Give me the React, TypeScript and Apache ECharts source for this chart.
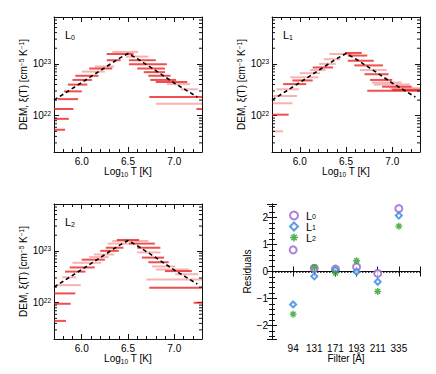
import React, { useEffect, useRef } from 'react';
import * as echarts from 'echarts';

const FONT = 'Liberation Sans';
const AX = '#111';

// Axis ranges
const T_MIN = 5.7;
const T_MAX = 7.3;
const DEM_MIN = 2e21;
const DEM_MAX = 8e23;
const RES_MIN = -2.5;
const RES_MAX = 2.5;

// Model DEM (dashed line): log10 T and log10 DEM
const modelLogT = [5.7, 6.0, 6.2, 6.4, 6.5, 6.6, 6.8, 7.0, 7.25];
const modelLogDem = [22.3, 22.64, 22.87, 23.1, 23.2, 23.1, 22.87, 22.63, 22.36];

// Regularised DEM solutions: [log T low, log T high, log10 DEM]
const l0Strong = [
  [6.27, 6.56, 23.19], [6.27, 6.42, 23.07], [6.51, 6.8, 23.07], [6.51, 6.92, 22.99],
  [6.08, 6.33, 22.91], [6.6, 6.9, 22.91], [6.67, 6.9, 22.84], [5.93, 6.18, 22.77],
  [6.72, 6.96, 22.77], [5.9, 6.11, 22.69], [6.74, 7.02, 22.69], [6.8, 7.14, 22.65],
  [5.85, 6.06, 22.6], [5.81, 6.0, 22.47], [6.73, 7.3, 22.36], [5.74, 5.96, 22.32],
  [5.7, 5.91, 22.13], [7.24, 7.3, 22.13], [5.7, 5.86, 21.94], [5.7, 5.82, 21.73],
];
const l0Light = [
  [6.33, 6.61, 23.23], [6.48, 6.72, 23.14], [6.14, 6.35, 22.95], [6.0, 6.25, 22.85],
  [6.92, 7.17, 22.61], [7.07, 7.26, 22.51], [6.8, 7.3, 22.23],
];
const l1Strong = [
  [6.49, 6.67, 23.21], [6.52, 6.73, 23.16], [6.52, 6.8, 23.06], [6.59, 6.9, 22.97],
  [6.14, 6.36, 22.93], [6.7, 6.96, 22.8], [6.76, 7.0, 22.69], [5.92, 6.14, 22.68],
  [5.82, 6.07, 22.61], [6.89, 7.21, 22.56], [6.73, 7.3, 22.48], [7.0, 7.3, 22.5],
  [5.7, 5.88, 22.02],
];
const l1Light = [
  [6.32, 6.56, 23.19], [6.26, 6.44, 23.09], [6.21, 6.39, 23.0], [6.11, 6.28, 22.88],
  [6.65, 6.94, 22.88], [6.0, 6.22, 22.82], [5.9, 6.2, 22.74], [6.78, 7.1, 22.64],
  [6.8, 7.19, 22.6], [6.98, 7.3, 22.53], [5.75, 5.99, 22.51], [5.71, 5.97, 22.38],
  [5.7, 5.92, 22.24], [5.7, 5.82, 21.7],
];
const l2Strong = [
  [6.38, 6.62, 23.21], [6.51, 6.79, 23.14], [6.26, 6.45, 23.06], [6.6, 6.85, 23.06],
  [6.2, 6.4, 23.0], [6.65, 6.89, 22.87], [6.0, 6.25, 22.83], [6.72, 6.94, 22.78],
  [5.87, 6.14, 22.68], [6.9, 7.19, 22.61], [5.82, 6.04, 22.6], [6.73, 7.3, 22.29],
  [5.7, 5.93, 22.18], [7.21, 7.3, 22.0], [5.7, 5.88, 21.98], [5.7, 5.83, 21.65],
];
const l2Light = [
  [6.33, 6.72, 23.19], [6.28, 6.51, 23.14], [6.6, 6.85, 22.97], [6.13, 6.35, 22.93],
  [6.08, 6.29, 22.88], [5.9, 6.21, 22.77], [6.76, 7.01, 22.7], [6.8, 7.16, 22.64],
  [7.01, 7.26, 22.55], [5.79, 5.94, 22.49], [6.7, 7.3, 22.45], [5.72, 5.99, 22.34],
];

// Residuals
const filters = ['94', '131', '171', '193', '211', '335'];
const resL0 = [0.8, 0.12, 0.09, 0.17, -0.07, 2.33];
const resL1 = [-1.22, -0.18, 0.06, -0.01, -0.38, 2.07];
const resL2 = [-1.58, 0.15, -0.06, 0.4, -0.74, 1.68];
const panelNames = ['L0', 'L1', 'L2'];

const GRIDS = [
  { left: 54, top: 17, width: 148, height: 135 },
  { left: 272, top: 17, width: 148, height: 135 },
  { left: 54, top: 204, width: 148, height: 135 },
  { left: 272, top: 204, width: 148, height: 135 },
];

const STRONG = 'rgba(235,20,20,0.75)';
const LIGHT = 'rgba(235,20,20,0.33)';
const C_L0 = '#9a62d4';
const C_L1 = '#2f86d8';
const C_L2 = '#28a028';
const ASTERISK =
  'path://M4,0h2v10h-2z M0,4h10v2h-10z M0.9,2.3l1.4,-1.4l6.8,6.8l-1.4,1.4z M7.7,0.9l1.4,1.4l-6.8,6.8l-1.4,-1.4z';

const rich = {
  b: { fontFamily: FONT, fontSize: 10, lineHeight: 12, color: '#000' },
  sup: { fontFamily: FONT, fontSize: 6.5, lineHeight: 4, verticalAlign: 'top', color: '#000' },
  sub: { fontFamily: FONT, fontSize: 6.5, lineHeight: 4, verticalAlign: 'bottom', color: '#000' },
};

const minorLogTicks: number[] = [];
for (const n of [21, 22, 23]) {
  for (let k = 2; k <= 9; k++) {
    const v = k * Math.pow(10, n);
    if (v > DEM_MIN * 1.0001 && v < DEM_MAX * 0.9999) minorLogTicks.push(v);
  }
}

const axisLine = { show: true, lineStyle: { color: AX, width: 1 } };
const tick = { show: true, inside: true, length: 5, lineStyle: { color: AX, width: 1 } };

function demXAxes(gi: number) {
  const base: any = {
    type: 'value', gridIndex: gi, min: T_MIN, max: T_MAX, splitNumber: 3,
    splitLine: { show: false }, axisLine, axisTick: tick,
    minorTick: { show: true, splitNumber: 5, length: 3, lineStyle: { color: AX, width: 1 } },
  };
  return [
    {
      ...base, position: 'bottom',
      axisLabel: {
        fontFamily: FONT, fontSize: 10, color: '#000', margin: 4,
        showMinLabel: false, showMaxLabel: false, formatter: (v: number) => v.toFixed(1),
      },
      name: '{b|Log}{sub|10}{b| T [K]}', nameLocation: 'middle', nameGap: 13,
      nameTextStyle: { fontFamily: FONT, fontSize: 10, color: '#000', rich },
    },
    { ...base, position: 'top', axisLabel: { show: false } },
  ];
}

function demYAxes(gi: number) {
  const base: any = {
    type: 'log', logBase: 10, gridIndex: gi, min: DEM_MIN, max: DEM_MAX,
    splitLine: { show: false }, axisLine, axisTick: tick, minorTick: { show: false },
  };
  return [
    {
      ...base, position: 'left',
      axisLabel: {
        margin: 3, showMinLabel: false, showMaxLabel: false, rich,
        formatter: (v: number) => '{b|10}{sup|' + Math.round(Math.log10(v)) + '}',
      },
      name: '{b|DEM, ξ(T) [cm}{sup|−5}{b| K}{sup|−1}{b|]}', nameLocation: 'middle', nameGap: 24,
      nameTextStyle: { fontFamily: FONT, fontSize: 10, color: '#000', rich },
    },
    { ...base, position: 'right', axisLabel: { show: false } },
  ];
}

function barSeries(data: number[][], gi: number, color: string) {
  return {
    type: 'custom', xAxisIndex: 2 * gi, yAxisIndex: 2 * gi, z: 2, silent: true,
    data: data.map(([a, b, d]) => [a, b, Math.pow(10, d)]),
    encode: { x: [0, 1], y: 2 },
    renderItem: (_p: any, api: any) => {
      const p1 = api.coord([api.value(0), api.value(2)]);
      const p2 = api.coord([api.value(1), api.value(2)]);
      return {
        type: 'line',
        shape: { x1: p1[0], y1: p1[1], x2: p2[0], y2: p2[1] },
        style: { stroke: color, lineWidth: 2 },
      };
    },
  };
}

function minorTickSeries(gi: number) {
  return {
    type: 'custom', xAxisIndex: 2 * gi, yAxisIndex: 2 * gi, z: 5, silent: true,
    data: minorLogTicks.map((v) => [T_MIN, v]),
    encode: { x: 0, y: 1 },
    renderItem: (params: any, api: any) => {
      const cs = params.coordSys;
      const y = api.coord([api.value(0), api.value(1)])[1];
      const st = { stroke: AX, lineWidth: 1 };
      return {
        type: 'group',
        children: [
          { type: 'line', shape: { x1: cs.x, y1: y, x2: cs.x + 3, y2: y }, style: st },
          { type: 'line', shape: { x1: cs.x + cs.width - 3, y1: y, x2: cs.x + cs.width, y2: y }, style: st },
        ],
      };
    },
  };
}

function modelSeries(gi: number) {
  return {
    type: 'line', xAxisIndex: 2 * gi, yAxisIndex: 2 * gi, z: 3, silent: true,
    showSymbol: false, symbol: 'none',
    data: modelLogT.map((t, i) => [t, Math.pow(10, modelLogDem[i])]),
    lineStyle: { color: '#000', width: 1.6, type: [4, 3] },
  };
}

export default function App() {
  const ref = useRef<HTMLDivElement>(null);
  useEffect(() => {
    if (!ref.current) return;
    const chart = echarts.init(ref.current, undefined, { renderer: 'svg' });
    const strongSets = [l0Strong, l1Strong, l2Strong];
    const lightSets = [l0Light, l1Light, l2Light];
    const series: any[] = [];
    for (let gi = 0; gi < 3; gi++) {
      series.push(barSeries(lightSets[gi], gi, LIGHT));
      series.push(barSeries(strongSets[gi], gi, STRONG));
      series.push(modelSeries(gi));
      series.push(minorTickSeries(gi));
    }
    const resData = (arr: number[]) => arr.map((v, i) => [i + 1, v]);
    series.push({
      name: 'L0', type: 'scatter', xAxisIndex: 6, yAxisIndex: 6, z: 4,
      symbol: 'emptyCircle', symbolSize: 7, data: resData(resL0),
      itemStyle: { color: C_L0, borderWidth: 1.2 },
      markLine: {
        silent: true, symbol: ['none', 'none'], z: 1, label: { show: false },
        lineStyle: { color: '#000', type: 'dotted', width: 1.5 },
        data: [{ yAxis: 0 }],
      },
    });
    series.push({
      name: 'L1', type: 'scatter', xAxisIndex: 6, yAxisIndex: 6, z: 4,
      symbol: 'emptyDiamond', symbolSize: 6, data: resData(resL1),
      itemStyle: { color: C_L1, borderWidth: 1.2 },
    });
    series.push({
      name: 'L2', type: 'scatter', xAxisIndex: 6, yAxisIndex: 6, z: 4,
      symbol: ASTERISK, symbolSize: 7, data: resData(resL2),
      itemStyle: { color: C_L2 },
    });

    const resX: any = {
      type: 'value', gridIndex: 3, min: 0, max: filters.length + 1, interval: 1,
      splitLine: { show: false }, axisLine, axisTick: tick,
    };
    const resY: any = {
      type: 'value', gridIndex: 3, min: RES_MIN, max: RES_MAX, splitNumber: 5,
      splitLine: { show: false }, axisLine, axisTick: tick,
      minorTick: { show: true, splitNumber: 5, length: 3, lineStyle: { color: AX, width: 1 } },
    };

    const titlePos = [
      { left: 65, top: 28 },
      { left: 283, top: 28 },
      { left: 65, top: 215 },
    ];

    chart.setOption({
      animation: false,
      textStyle: { fontFamily: FONT },
      title: panelNames.map((n, i) => ({
        text: '{m|L}{s|' + n.slice(1) + '}',
        left: titlePos[i].left, top: titlePos[i].top, padding: 0,
        textStyle: {
          fontSize: 11, fontWeight: 'normal',
          rich: {
            m: { fontFamily: FONT, fontSize: 11, lineHeight: 13, color: '#000' },
            s: { fontFamily: FONT, fontSize: 7, lineHeight: 4, verticalAlign: 'bottom', color: '#000' },
          },
        },
      })),
      legend: {
        data: ['L0', 'L1', 'L2'], orient: 'vertical', left: 289, top: 210,
        itemWidth: 8, itemHeight: 8, itemGap: 0, padding: 0, selectedMode: false,
        formatter: (n: string) => '{m|L}{s|' + n.slice(1) + '}',
        textStyle: {
          padding: [0, 0, 0, 3],
          rich: {
            m: { fontFamily: FONT, fontSize: 11, lineHeight: 9, color: '#000' },
            s: { fontFamily: FONT, fontSize: 7, lineHeight: 4, verticalAlign: 'bottom', color: '#000' },
          },
        },
      },
      grid: GRIDS.map((g) => ({ ...g, containLabel: false })),
      xAxis: [
        ...demXAxes(0), ...demXAxes(1), ...demXAxes(2),
        {
          ...resX, position: 'bottom',
          axisLabel: {
            fontFamily: FONT, fontSize: 10, color: '#000', margin: 4,
            formatter: (v: number) => filters[v - 1] ?? '',
          },
          name: 'Filter [Å]', nameLocation: 'middle', nameGap: 13,
          nameTextStyle: { fontFamily: FONT, fontSize: 10, color: '#000' },
        },
        { ...resX, position: 'top', axisLabel: { show: false } },
      ],
      yAxis: [
        ...demYAxes(0), ...demYAxes(1), ...demYAxes(2),
        {
          ...resY, position: 'left',
          axisLabel: {
            fontFamily: FONT, fontSize: 10, color: '#000', margin: 4,
            showMinLabel: false, showMaxLabel: false,
            formatter: (v: number) => String(v).replace('-', '−'),
          },
          name: 'Residuals', nameLocation: 'middle', nameGap: 20,
          nameTextStyle: { fontFamily: FONT, fontSize: 10, color: '#000' },
        },
        { ...resY, position: 'right', axisLabel: { show: false } },
      ],
      series,
    });
    return () => chart.dispose();
  }, []);
  return (
    <div
      ref={ref}
      style={{ position: 'absolute', left: 0, top: 0, width: 436, height: 374, background: '#fff' }}
    />
  );
}
